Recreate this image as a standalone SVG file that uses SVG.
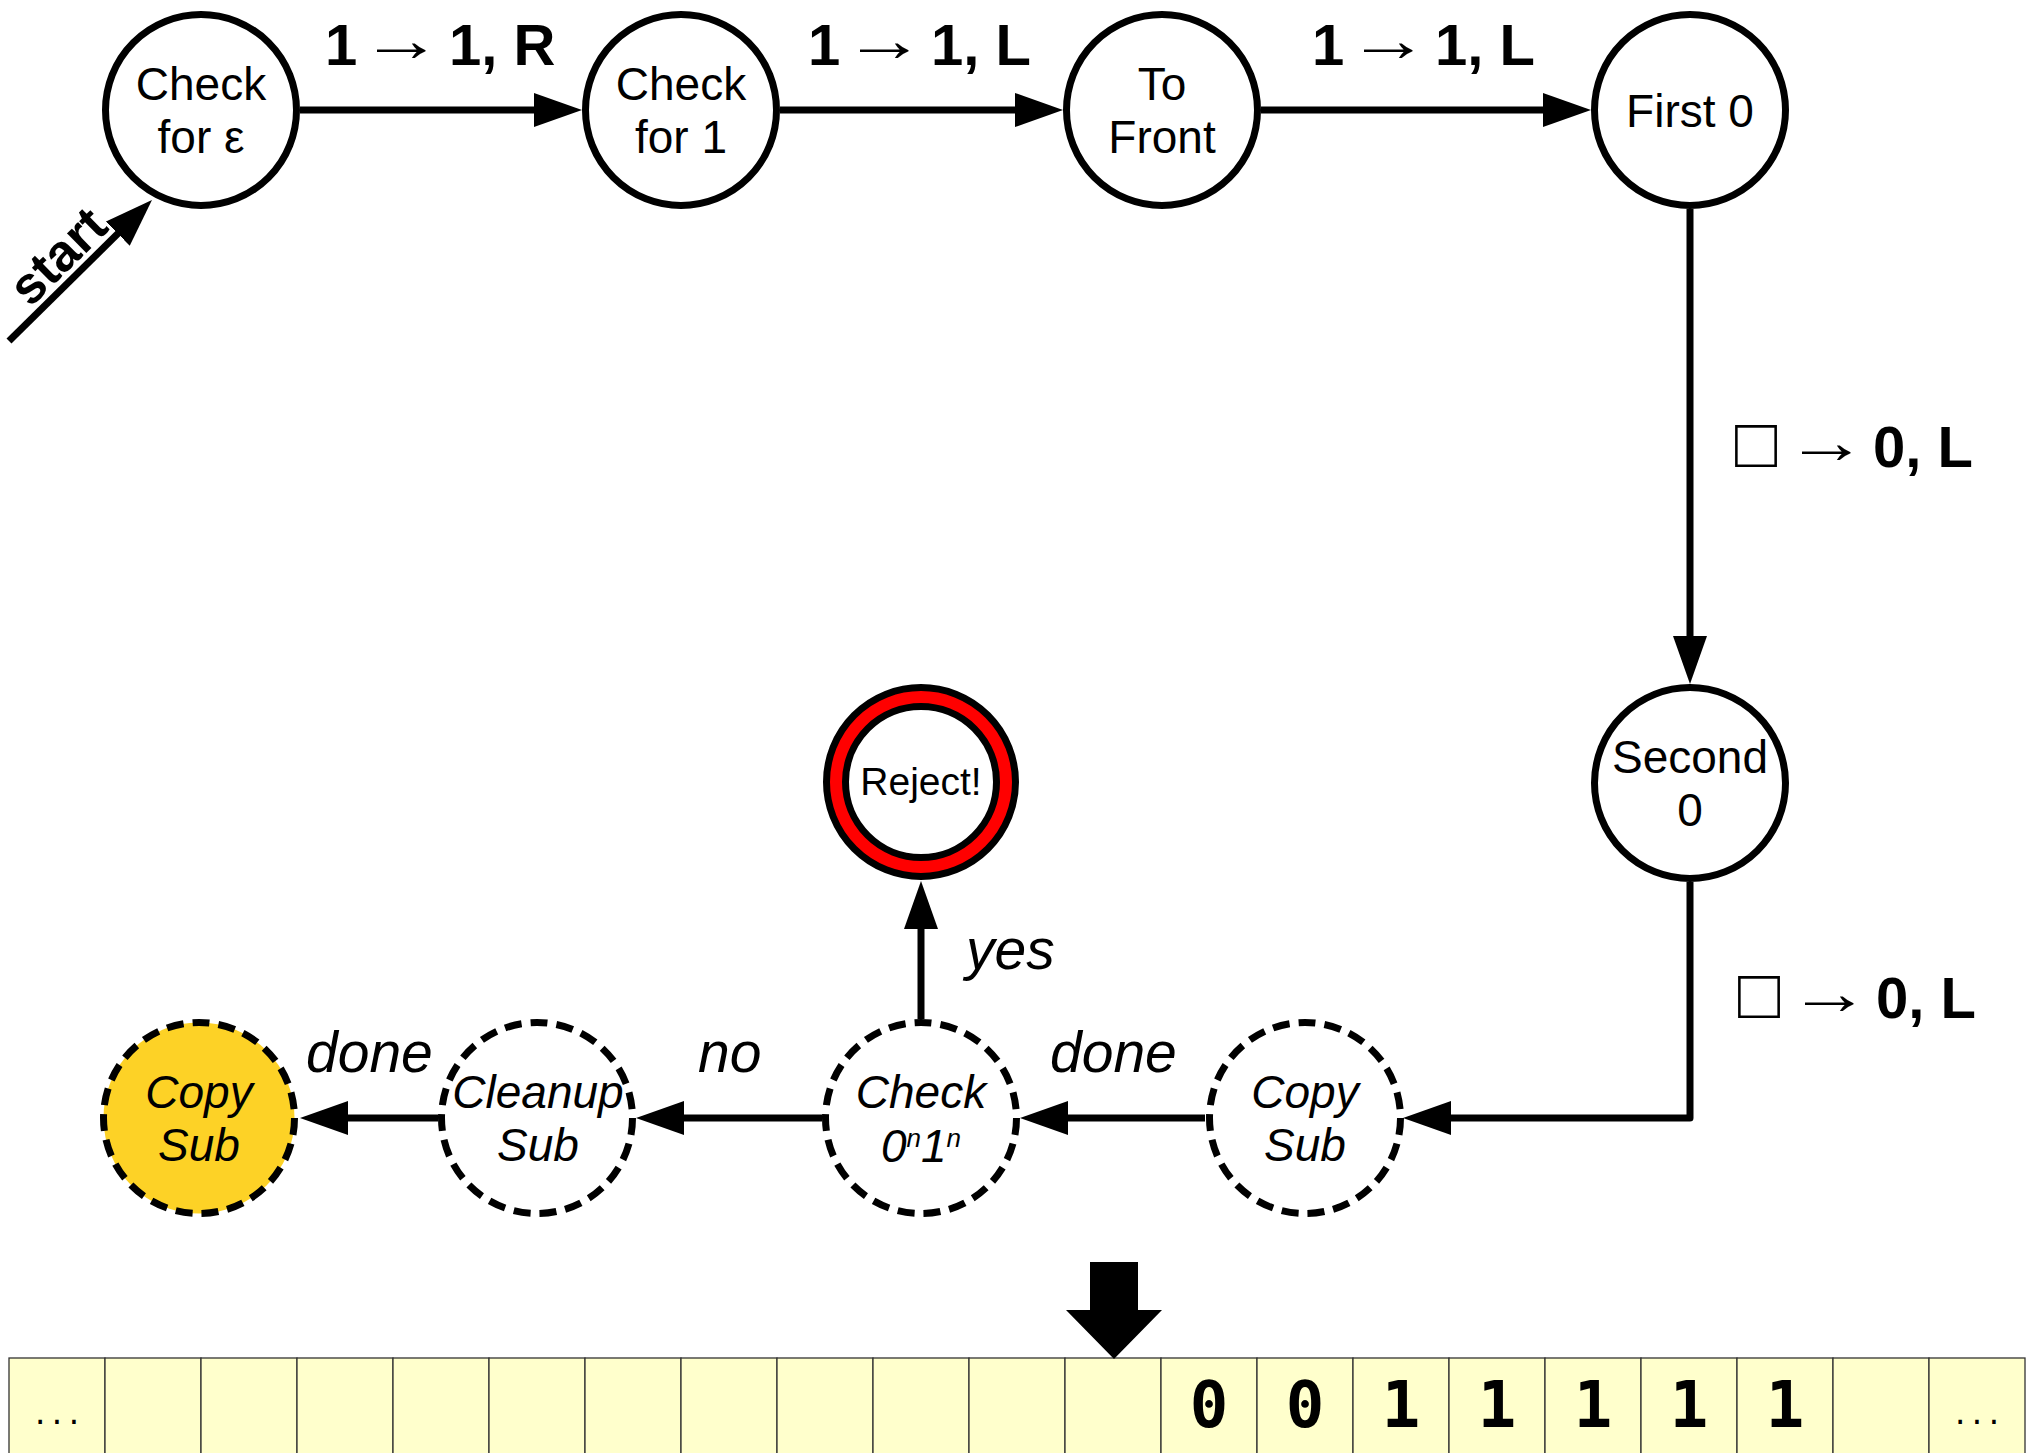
<svg xmlns="http://www.w3.org/2000/svg" width="2033" height="1453" viewBox="0 0 2033 1453">
<style>
  .st { fill: #fff; stroke: #000; stroke-width: 7; }
  .sub { fill: #fff; stroke: #000; stroke-width: 7; stroke-dasharray: 17 9; }
  .nt { font-family: "Liberation Sans", Arial, sans-serif; font-size: 46px; text-anchor: middle; fill: #000; }
  .it { font-style: italic; }
  .lbl { font-family: "Liberation Sans", Arial, sans-serif; font-size: 58px; font-weight: bold; fill: #000; }
  .arr { font-family: "Liberation Sans", Arial, sans-serif; font-size: 62px; font-weight: normal; fill: #000; }
  .box { font-family: "Liberation Sans", Arial, sans-serif; font-size: 70px; font-weight: normal; fill: #000; }
  .elab { font-family: "Liberation Sans", Arial, sans-serif; font-size: 57px; font-style: italic; fill: #000; }
  .edge { fill: none; stroke: #000; stroke-width: 7; stroke-linejoin: round; marker-end: url(#ah); }
  .cell { fill: #ffffcc; stroke: #333; stroke-width: 1.3; }
  .tt { font-family: "DejaVu Sans Mono", monospace; font-size: 64px; font-weight: bold; text-anchor: middle; fill: #000; }
  .dots { font-family: "DejaVu Sans Mono", monospace; font-size: 28px; text-anchor: middle; fill: #000; }
</style>
<defs>
  <marker id="ah" markerUnits="userSpaceOnUse" markerWidth="50" markerHeight="36" refX="8" refY="17" orient="auto">
    <path d="M0,0 L48,17 L0,34 Z" fill="#000"/>
  </marker>
</defs>
<rect width="2033" height="1453" fill="#fff"/>

<g id="connectors">
  <line class="edge" x1="9" y1="341" x2="123.5" y2="228.1"/>
  <line class="edge" x1="300" y1="110" x2="542" y2="110"/>
  <line class="edge" x1="780" y1="110" x2="1023" y2="110"/>
  <line class="edge" x1="1261" y1="110" x2="1551" y2="110"/>
  <line class="edge" x1="1690" y1="209" x2="1690" y2="644"/>
  <path class="edge" d="M1690,882 V1118 H1443"/>
  <line class="edge" x1="1205" y1="1118" x2="1060" y2="1118"/>
  <line class="edge" x1="822" y1="1118" x2="676" y2="1118"/>
  <line class="edge" x1="438" y1="1118" x2="340" y2="1118"/>
  <line class="edge" x1="921" y1="1019" x2="921" y2="921"/>
  <text class="lbl" transform="translate(33,311) rotate(-44.6)" x="0" y="-4" style="font-size:52px">start</text>

  <text class="lbl" x="325" y="65">1</text>
  <text class="arr" x="360" y="61" textLength="82" lengthAdjust="spacingAndGlyphs">→</text>
  <text class="lbl" x="449" y="65">1, R</text>

  <text class="lbl" x="808" y="65">1</text>
  <text class="arr" x="843" y="61" textLength="82" lengthAdjust="spacingAndGlyphs">→</text>
  <text class="lbl" x="931" y="65">1, L</text>

  <text class="lbl" x="1312" y="65">1</text>
  <text class="arr" x="1347" y="61" textLength="82" lengthAdjust="spacingAndGlyphs">→</text>
  <text class="lbl" x="1435" y="65">1, L</text>

  <text class="box" x="1735" y="467">□</text>
  <text class="arr" x="1785" y="463" textLength="82" lengthAdjust="spacingAndGlyphs">→</text>
  <text class="lbl" x="1873" y="467">0, L</text>

  <text class="box" x="1738" y="1018">□</text>
  <text class="arr" x="1788" y="1014" textLength="82" lengthAdjust="spacingAndGlyphs">→</text>
  <text class="lbl" x="1876" y="1018">0, L</text>

  <text class="elab" x="966" y="969">yes</text>
  <text class="elab" x="1050" y="1072">done</text>
  <text class="elab" x="698" y="1072">no</text>
  <text class="elab" x="306" y="1072">done</text>
</g>

<g id="check-eps">
  <circle class="st" cx="201" cy="110" r="95.5"/>
  <text class="nt" x="201" y="100">Check</text>
  <text class="nt" x="201" y="153">for ε</text>
</g>
<g id="check-1">
  <circle class="st" cx="681" cy="110" r="95.5"/>
  <text class="nt" x="681" y="100">Check</text>
  <text class="nt" x="681" y="153">for 1</text>
</g>
<g id="to-front">
  <circle class="st" cx="1162" cy="110" r="95.5"/>
  <text class="nt" x="1162" y="100">To</text>
  <text class="nt" x="1162" y="153">Front</text>
</g>
<g id="first-0">
  <circle class="st" cx="1690" cy="110" r="95.5"/>
  <text class="nt" x="1690" y="127">First 0</text>
</g>
<g id="second-0">
  <circle class="st" cx="1690" cy="783" r="95.5"/>
  <text class="nt" x="1690" y="773">Second</text>
  <text class="nt" x="1690" y="826">0</text>
</g>
<g id="reject">
  <circle cx="921" cy="782" r="94.5" fill="#ff0000" stroke="#000" stroke-width="7"/>
  <circle cx="921" cy="782" r="75.5" fill="#fff" stroke="#000" stroke-width="7"/>
  <text class="nt" x="921" y="795" style="font-size:39px">Reject!</text>
</g>
<g id="copy-sub-right">
  <circle class="sub" cx="1305" cy="1118" r="95.5" pathLength="598"/>
  <text class="nt it" x="1305" y="1108">Copy</text>
  <text class="nt it" x="1305" y="1161">Sub</text>
</g>
<g id="check-0n1n">
  <circle class="sub" cx="921" cy="1118" r="95.5" pathLength="598"/>
  <text class="nt it" x="921" y="1108">Check</text>
  <text class="nt it" x="921" y="1162">0<tspan style="font-size:26px" dy="-15">n</tspan><tspan dy="15">1</tspan><tspan style="font-size:26px" dy="-15">n</tspan></text>
</g>
<g id="cleanup-sub">
  <circle class="sub" cx="537" cy="1118" r="95.5" pathLength="598"/>
  <text class="nt it" x="538" y="1108">Cleanup</text>
  <text class="nt it" x="538" y="1161">Sub</text>
</g>
<g id="copy-sub-left">
  <circle class="sub" cx="199" cy="1118" r="95.5" pathLength="598" style="fill:#fdd226"/>
  <text class="nt it" x="199" y="1108">Copy</text>
  <text class="nt it" x="199" y="1161">Sub</text>
</g>

<g id="tape">
  <rect class="cell" x="9" y="1358" width="96" height="100"/>
  <rect class="cell" x="105" y="1358" width="96" height="100"/>
  <rect class="cell" x="201" y="1358" width="96" height="100"/>
  <rect class="cell" x="297" y="1358" width="96" height="100"/>
  <rect class="cell" x="393" y="1358" width="96" height="100"/>
  <rect class="cell" x="489" y="1358" width="96" height="100"/>
  <rect class="cell" x="585" y="1358" width="96" height="100"/>
  <rect class="cell" x="681" y="1358" width="96" height="100"/>
  <rect class="cell" x="777" y="1358" width="96" height="100"/>
  <rect class="cell" x="873" y="1358" width="96" height="100"/>
  <rect class="cell" x="969" y="1358" width="96" height="100"/>
  <rect class="cell" x="1065" y="1358" width="96" height="100"/>
  <rect class="cell" x="1161" y="1358" width="96" height="100"/>
  <rect class="cell" x="1257" y="1358" width="96" height="100"/>
  <rect class="cell" x="1353" y="1358" width="96" height="100"/>
  <rect class="cell" x="1449" y="1358" width="96" height="100"/>
  <rect class="cell" x="1545" y="1358" width="96" height="100"/>
  <rect class="cell" x="1641" y="1358" width="96" height="100"/>
  <rect class="cell" x="1737" y="1358" width="96" height="100"/>
  <rect class="cell" x="1833" y="1358" width="96" height="100"/>
  <rect class="cell" x="1929" y="1358" width="96" height="100"/>
  <text class="dots" x="57" y="1424">...</text>
  <text class="tt" x="1209" y="1427">0</text>
  <text class="tt" x="1305" y="1427">0</text>
  <text class="tt" x="1401" y="1427">1</text>
  <text class="tt" x="1497" y="1427">1</text>
  <text class="tt" x="1593" y="1427">1</text>
  <text class="tt" x="1689" y="1427">1</text>
  <text class="tt" x="1785" y="1427">1</text>
  <text class="dots" x="1977" y="1424">...</text>
  <polygon points="1090,1262 1138,1262 1138,1310 1162,1310 1114,1359 1066,1310 1090,1310" fill="#000"/>
</g>
</svg>
